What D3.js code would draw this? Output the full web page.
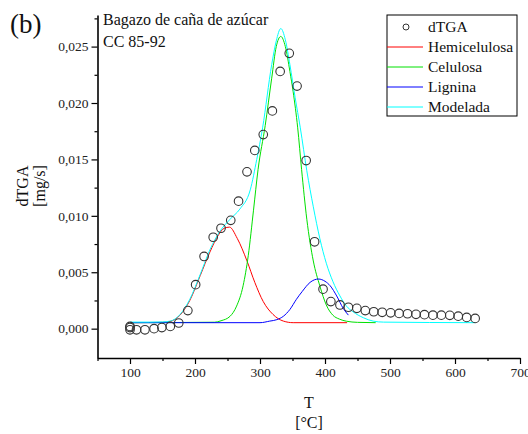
<!DOCTYPE html>
<html><head><meta charset="utf-8">
<script src="https://cdn.jsdelivr.net/npm/d3@7"></script>
<style>
body{margin:0;background:#fff;}
svg{display:block;}
svg text{font-family:"Liberation Serif","Times New Roman",serif !important;}
</style></head>
<body><svg id="c" width="528" height="434"></svg>
<script>
// dTGA measured points
const dtgaT = [100,100,100,110,123,137,149,162,175,189,201,214,228,240,255,267,280,292,305,319,331,345,357,371,384,397,409,423,436,449,462,475,488,501,514,527,540,553,566,579,592,605,618,631];
const dtgaV = [0.0002,0.0001,-0.0001,-0.0001,-0.0001,0.0,0.0001,0.0002,0.0005,0.0016,0.0039,0.0064,0.0081,0.0089,0.0096,0.0113,0.0139,0.0158,0.0172,0.0193,0.0228,0.0244,0.0215,0.0149,0.0077,0.0035,0.0024,0.0021,0.0019,0.0018,0.0016,0.0015,0.00145,0.0014,0.00135,0.00132,0.00127,0.00124,0.0012,0.0012,0.00118,0.00111,0.0010,0.00091];

// Hemicelulosa component
const hemiT = [100,150,162,177,192,208,223,236,245,253,265,280,292,305,320,336,351,434];
const hemiV = [0.00053,0.00056,0.00065,0.0012,0.0025,0.0047,0.0068,0.0083,0.0089,0.0090,0.0080,0.0060,0.0041,0.0024,0.00126,0.00067,0.00053,0.00053];

// Celulosa component
const celT = [100,230,240,254,264,274,282,290,297,308,318,325,332,339,346,351,358,364,372,382,392,402,412,422,433,450,478];
const celV = [0.00053,0.00057,0.0007,0.0011,0.0020,0.0038,0.0065,0.0105,0.0141,0.0180,0.0222,0.0250,0.0259,0.0250,0.0228,0.0210,0.0178,0.0141,0.0097,0.0060,0.0038,0.0021,0.0012,0.00085,0.00066,0.00056,0.00053];

// Lignina component
const ligT = [100,300,315,326,336,346,356,365,377,390,400,408,418,428,436];
const ligV = [0.00053,0.00053,0.00067,0.0008,0.0011,0.0017,0.0026,0.0033,0.0041,0.0044,0.0042,0.0038,0.0029,0.0018,0.0012];

// Modelada (sum)
const modT = [100,130,150,162,177,192,208,223,238,254,269,285,295,304,318,325,332,339,346,354,362,372,382,392,402,412,423,433,443,459,474,490,631];
const modV = [0.00058,0.00058,0.0006,0.00067,0.00126,0.0026,0.0048,0.0070,0.0086,0.0097,0.0106,0.0123,0.0150,0.0178,0.0234,0.0255,0.0266,0.0256,0.0234,0.0205,0.0178,0.0140,0.0108,0.0080,0.0058,0.0042,0.0029,0.0020,0.0015,0.00097,0.00067,0.00058,0.00053];

const xTicks = [100,200,300,400,500,600,700];
const yTicks = [0,0.005,0.010,0.015,0.020,0.025];
const legendLabels = ["dTGA","Hemicelulosa","Celulosa","Lignina","Modelada"];
const seriesColors = ["#ff0000","#00e000","#0000ff","#00ffff"];

const FONT = '"Liberation Serif","Times New Roman",serif';
const svg = d3.select("#c");
const x = d3.scaleLinear().domain([50,700]).range([97.5,520]);
const y = d3.scaleLinear().domain([-0.0026,0.0278]).range([358,15]);
const fmtY = v => d3.format(".3f")(v).replace(".", ",");

// axes
const xAxis = d3.axisBottom(x).tickValues(xTicks).tickSize(6).tickSizeOuter(0).tickPadding(3);
svg.append("g").attr("transform","translate(0,358)").call(xAxis);
const xMinor = d3.axisBottom(x).tickValues(d3.range(50,701,100)).tickSize(3).tickFormat("").tickSizeOuter(0);
svg.append("g").attr("transform","translate(0,358)").call(xMinor).select(".domain").remove();

const yAxis = d3.axisLeft(y).tickValues(yTicks).tickFormat(fmtY).tickSize(6).tickSizeOuter(0).tickPadding(3);
svg.append("g").attr("transform","translate(97.5,0)").call(yAxis);
const yMinor = d3.axisLeft(y).tickValues([0.0025,0.0075,0.0125,0.0175,0.0225,0.0275]).tickSize(3).tickFormat("").tickSizeOuter(0);
svg.append("g").attr("transform","translate(97.5,0)").call(yMinor).select(".domain").remove();

svg.selectAll("g").attr("font-family",FONT);
svg.selectAll(".domain").attr("stroke","#000").attr("stroke-width",1.6);
svg.selectAll(".tick line").attr("stroke","#000").attr("stroke-width",1.2);
svg.selectAll(".tick text").attr("font-family",FONT).attr("font-size",13.5).attr("fill","#222");

// lines
const line = d3.line().x(d=>x(d[0])).y(d=>y(d[1])).curve(d3.curveMonotoneX);
const series = [[hemiT,hemiV],[celT,celV],[ligT,ligV],[modT,modV]];
series.forEach((s,i)=>{
  const pts = s[0].map((t,j)=>[t,s[1][j]]);
  svg.append("path").datum(pts).attr("d",line).attr("fill","none")
     .attr("stroke",seriesColors[i]).attr("stroke-width",1);
});

// points
svg.append("g").selectAll("circle").data(dtgaT.map((t,j)=>[t,dtgaV[j]])).join("circle")
  .attr("cx",d=>x(d[0])).attr("cy",d=>y(d[1])).attr("r",4.3)
  .attr("fill","none").attr("stroke","#333").attr("stroke-width",1.1);

// texts
function txt(xx,yy,s,size,anchor,transform){
  const t = svg.append("text").attr("font-family",FONT).attr("font-size",size).attr("fill","#111").text(s);
  if(transform) t.attr("transform",transform); else t.attr("x",xx).attr("y",yy);
  if(anchor) t.attr("text-anchor",anchor);
  return t;
}
txt(10,33,"(b)",27);
txt(103,25,"Bagazo de caña de azúcar",16);
txt(103,47,"CC 85-92",16);
txt(309,408,"T",16,"middle");
txt(309,428,"[°C]",16,"middle");
txt(0,0,"dTGA",16,"middle","translate(28,186) rotate(-90)");
txt(0,0,"[mg/s]",16,"middle","translate(45,186) rotate(-90)");

// legend
const lg = svg.append("g");
lg.append("rect").attr("x",387).attr("y",15).attr("width",130).attr("height",101)
  .attr("fill","#fff").attr("stroke","#000").attr("stroke-width",1);
legendLabels.forEach((lab,i)=>{
  const yy = 27 + i*20;
  if(i===0){
    lg.append("circle").attr("cx",406).attr("cy",yy).attr("r",3).attr("fill","none").attr("stroke","#333");
  } else {
    lg.append("line").attr("x1",387).attr("x2",423).attr("y1",yy).attr("y2",yy)
      .attr("stroke",seriesColors[i-1]).attr("stroke-width",1);
  }
  lg.append("text").attr("x",428).attr("y",yy+5).attr("font-family",FONT).attr("font-size",15.5).attr("fill","#111").text(lab);
});
</script></body></html>
